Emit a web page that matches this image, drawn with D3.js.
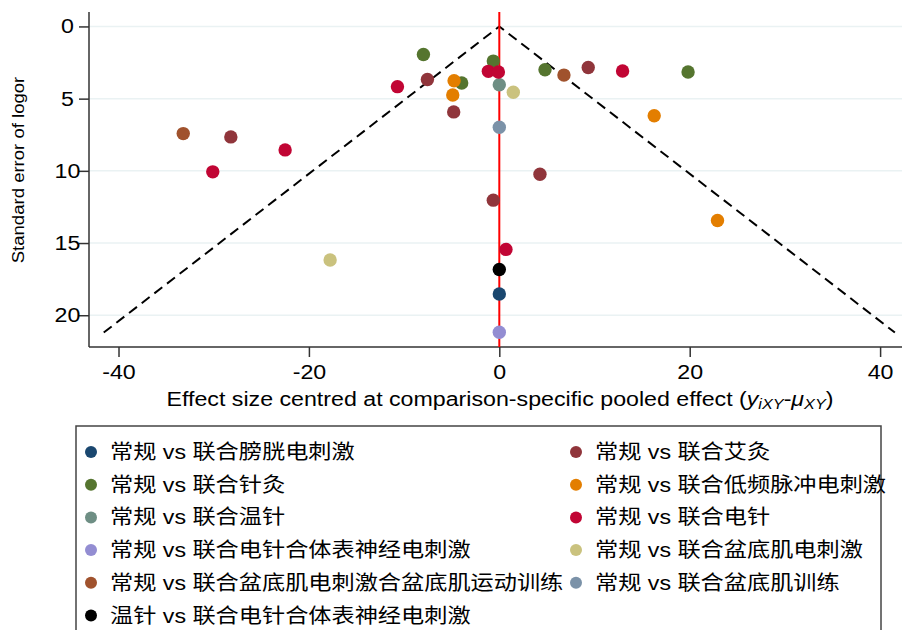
<!DOCTYPE html>
<html>
<head>
<meta charset="utf-8">
<script src="https://cdn.jsdelivr.net/npm/d3@7"></script>
<style>
  body { margin: 0; background: #fff; }
  text { font-family: "Liberation Sans", Arial, "Noto Sans CJK SC", sans-serif; fill: #000; }
</style>
</head>
<body>
<div id="chart"></div>
<script>
// comparison groups (legend order, Stata s2color order)
var groups = [
  "常规 vs 联合膀胱电刺激",
  "常规 vs 联合艾灸",
  "常规 vs 联合针灸",
  "常规 vs 联合低频脉冲电刺激",
  "常规 vs 联合温针",
  "常规 vs 联合电针",
  "常规 vs 联合电针合体表神经电刺激",
  "常规 vs 联合盆底肌电刺激",
  "常规 vs 联合盆底肌电刺激合盆底肌运动训练",
  "常规 vs 联合盆底肌训练",
  "温针 vs 联合电针合体表神经电刺激"
];
var palette = ["#1a476f", "#90353b", "#55752f", "#e37e00", "#6e8e84", "#c10534",
               "#938dd2", "#cac27e", "#a0522d", "#7b92a8", "#000000"];

// studies: centred effect, standard error, group index
var effect = [0, -28.2, -7.55, -4.79, 9.34, 4.27, -0.63,
              -7.97, -0.63, 4.8, -3.95, 19.83,
              -4.75, -4.89, 16.27, 22.92,
              0,
              -22.5, -30.1, -1.15, -0.1, -10.7, 0.7, 12.95,
              0,
              1.47, -17.77,
              -33.2, 6.79,
              0,
              0];
var stdErr = [18.53, 7.65, 3.67, 5.92, 2.84, 10.24, 12.03,
              1.94, 2.4, 3.0, 3.92, 3.16,
              3.76, 4.75, 6.18, 13.44,
              4.04,
              8.55, 10.07, 3.11, 3.16, 4.17, 15.44, 3.09,
              21.18,
              4.56, 16.18,
              7.42, 3.37,
              6.98,
              16.83];
var groupOf = [0, 1, 1, 1, 1, 1, 1,
               2, 2, 2, 2, 2,
               3, 3, 3, 3,
               4,
               5, 5, 5, 5, 5, 5, 5,
               6,
               7, 7,
               8, 8,
               9,
               10];

var xTicks = [-40, -20, 0, 20, 40];
var yTicks = [0, 5, 10, 15, 20];
var seMax = 21.2;   // funnel drawn down to this SE

var svgWidth = 902, svgHeight = 630;
var plot = { left: 89, right: 902, top: 12, bottom: 347 };
var stretch = 1.16;   // the original's text is drawn wider than Arial

var svg = d3.select("#chart").append("svg")
    .attr("width", svgWidth)
    .attr("height", svgHeight);

var xScale = d3.scaleLinear().domain([-43.1, 42.3]).range([plot.left, plot.right]);
var yScale = d3.scaleLinear().domain([-1, 22.2]).range([plot.top, plot.bottom]);

// gridlines
svg.append("g").selectAll("line").data(yTicks).join("line")
    .attr("x1", plot.left).attr("x2", plot.right)
    .attr("y1", d => yScale(d)).attr("y2", d => yScale(d))
    .attr("stroke", "#eaf2f3").attr("stroke-width", 1.5);

// axes (plain hyphen for negatives, like Stata)
var yAxis = svg.append("g")
    .attr("transform", `translate(${plot.left},0)`)
    .call(d3.axisLeft(yScale).tickValues(yTicks).tickSize(10).tickPadding(6).tickFormat(d => String(d)));
var xAxis = svg.append("g")
    .attr("transform", `translate(0,${plot.bottom})`)
    .call(d3.axisBottom(xScale).tickValues(xTicks).tickSize(10).tickPadding(8).tickFormat(d => String(d)));

[xAxis, yAxis].forEach(function(ax) {
  ax.select(".domain").attr("stroke", "#333").attr("stroke-width", 1.5);
  ax.selectAll(".tick line").attr("stroke", "#333").attr("stroke-width", 1.5);
  ax.selectAll(".tick text").attr("font-size", 20).attr("fill", "#000")
    .attr("font-family", "'Liberation Sans', Arial, sans-serif");
});
yAxis.select(".domain").attr("d", `M0,${plot.top}V${plot.bottom}`);
xAxis.select(".domain").attr("d", `M${plot.left},0H${plot.right}`);

// stretch tick labels, y labels centred like Stata
xAxis.selectAll(".tick text").attr("transform", `scale(${stretch},1)`);
yAxis.selectAll(".tick text")
    .attr("text-anchor", "middle")
    .attr("x", 0)
    .attr("transform", `translate(-21.5,0) scale(${stretch},1)`);

// funnel (pseudo 95% limits)
var funnel = [[-1.96 * seMax, seMax], [0, 0], [1.96 * seMax, seMax]];
svg.append("path")
    .datum(funnel)
    .attr("d", d3.line().x(d => xScale(d[0])).y(d => yScale(d[1])))
    .attr("fill", "none")
    .attr("stroke", "#000")
    .attr("stroke-width", 2)
    .attr("stroke-dasharray", "10,6");

// zero line
svg.append("line")
    .attr("x1", xScale(0)).attr("x2", xScale(0))
    .attr("y1", plot.top).attr("y2", plot.bottom)
    .attr("stroke", "#ff0000").attr("stroke-width", 2);

// points
svg.append("g").selectAll("circle").data(effect).join("circle")
    .attr("cx", d => xScale(d))
    .attr("cy", (d, i) => yScale(stdErr[i]))
    .attr("r", 6.7)
    .attr("fill", (d, i) => palette[groupOf[i]]);

// axis titles
svg.append("text")
    .attr("transform", `translate(24, 170) rotate(-90) scale(${stretch},1)`)
    .attr("text-anchor", "middle")
    .attr("font-size", 16)
    .text("Standard error of logor");

var xt = svg.append("text")
    .attr("transform", `translate(500,406) scale(${stretch},1)`)
    .attr("text-anchor", "middle")
    .attr("font-size", 20);
xt.append("tspan").text("Effect size centred at comparison-specific pooled effect (");
xt.append("tspan").attr("font-style", "italic").text("y");
xt.append("tspan").attr("font-style", "italic").attr("font-size", 14).attr("dy", 3).text("iXY");
xt.append("tspan").attr("dy", -3).text("-");
xt.append("tspan").attr("font-style", "italic").text("μ");
xt.append("tspan").attr("font-style", "italic").attr("font-size", 14).attr("dy", 3).text("XY");
xt.append("tspan").attr("dy", -3).text(")");

// legend
svg.append("rect")
    .attr("x", 76).attr("y", 426)
    .attr("width", 805).attr("height", 220)
    .attr("fill", "#fff")
    .attr("stroke", "#444").attr("stroke-width", 1.5);

var leg = svg.append("g").selectAll("g").data(groups).join("g")
    .attr("transform", (d, i) => `translate(${i % 2 === 0 ? 91 : 576}, ${452 + Math.floor(i / 2) * 32.7})`);
leg.append("circle")
    .attr("r", 6)
    .attr("fill", (d, i) => palette[i]);
leg.append("text")
    .attr("transform", `translate(19,7) scale(${stretch},1)`)
    .attr("font-size", 20)
    .text(d => d);
</script>
</body>
</html>
